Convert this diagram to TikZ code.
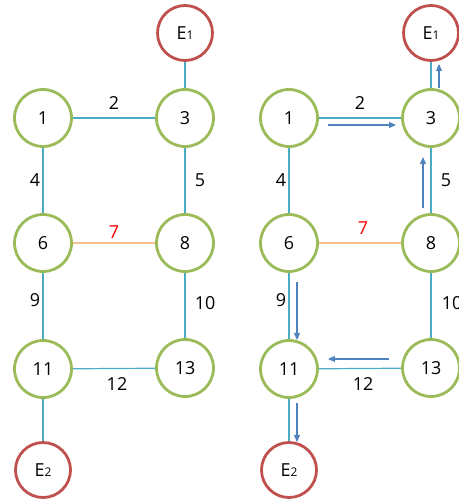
\documentclass[tikz,border=0pt]{standalone}
\usepackage{fontspec}
\setmainfont{Open Sans}
\usetikzlibrary{arrows.meta}
\definecolor{gn}{RGB}{155,187,89}
\definecolor{rd}{RGB}{192,80,77}
\definecolor{ln}{RGB}{75,172,198}
\definecolor{og}{RGB}{250,192,144}
\definecolor{ar}{RGB}{79,129,189}
\tikzset{
  vtx/.style={circle,draw=gn,line width=2.8pt,minimum size=57bp,inner sep=0pt,font=\fontsize{18}{18}\selectfont},
  ext/.style={circle,draw=rd,line width=2.8pt,minimum size=55bp,inner sep=0pt,font=\fontsize{18}{18}\selectfont},
  edge/.style={draw=ln,line width=1.2pt},
  edge7/.style={draw=og,line width=1.4pt},
  lbl/.style={font=\fontsize{18}{18}\selectfont,inner sep=0pt},
  flow/.style={draw=ar,line width=1.1pt,-{Triangle[length=7pt,width=6pt]}}
}
\newcommand{\Esub}[1]{E\raisebox{-0.5pt}{\fontsize{12}{12}\selectfont #1}}
\begin{document}
\begin{tikzpicture}[x=1bp,y=-1bp]
\useasboundingbox (0,0) rectangle (459,502);
% left
\node[vtx] (a1) at (43,118) {1};
\node[vtx] (a3) at (185,118) {3};
\node[ext] (aE1) at (185,33) {\Esub{1}};
\node[vtx] (a6) at (43,243) {6};
\node[vtx] (a8) at (185,243) {8};
\node[vtx] (a11) at (43,369) {11};
\node[vtx] (a13) at (185,368) {13};
\node[ext] (aE2) at (43,470) {\Esub{2}};
\draw[edge] (a1) -- (a3);
\draw[edge] (a3) -- (aE1);
\draw[edge] (a1) -- (a6);
\draw[edge] (a3) -- (a8);
\draw[edge7] (a6) -- (a8);
\draw[edge] (a6) -- (a11);
\draw[edge] (a8) -- (a13);
\draw[edge] (a11) -- (a13);
\draw[edge] (a11) -- (aE2);
\node[lbl] (al2) at (114,103) {2};
\node[lbl] (al4) at (35,180) {4};
\node[lbl] (al5) at (200,180) {5};
\node[lbl,text=red] (al7) at (114,232) {7};
\node[lbl] (al9) at (35,300) {9};
\node[lbl] (al10) at (205,303) {10};
\node[lbl] (al12) at (117,384) {12};
% right
\node[vtx] (b1) at (289,118) {1};
\node[vtx] (b3) at (431,118) {3};
\node[ext] (bE1) at (431,33) {\Esub{1}};
\node[vtx] (b6) at (289,243) {6};
\node[vtx] (b8) at (431,243) {8};
\node[vtx] (b11) at (289,369) {11};
\node[vtx] (b13) at (431,368) {13};
\node[ext] (bE2) at (289,470) {\Esub{2}};
\draw[edge] (b1) -- (b3);
\draw[edge] (b3) -- (bE1);
\draw[edge] (b1) -- (b6);
\draw[edge] (b3) -- (b8);
\draw[edge7] (b6) -- (b8);
\draw[edge] (b6) -- (b11);
\draw[edge] (b8) -- (b13);
\draw[edge] (b11) -- (b13);
\draw[edge] (b11) -- (bE2);
\node[lbl] (bl2) at (360,103) {2};
\node[lbl] (bl4) at (281,180) {4};
\node[lbl] (bl5) at (446,180) {5};
\node[lbl,text=red] (bl7) at (363,228) {7};
\node[lbl] (bl9) at (281,300) {9};
\node[lbl] (bl10) at (452,303) {10};
\node[lbl] (bl12) at (363,384) {12};
% flows
\coordinate (f1s) at (328,125); \coordinate (f1e) at (396,125);
\draw[flow] (f1s) -- (f1e);
\coordinate (f2s) at (439,88); \coordinate (f2e) at (439,64);
\draw[flow] (f2s) -- (f2e);
\coordinate (f3s) at (423,208); \coordinate (f3e) at (423,157);
\draw[flow] (f3s) -- (f3e);
\coordinate (f4s) at (297,282); \coordinate (f4e) at (297,340);
\draw[flow] (f4s) -- (f4e);
\coordinate (f5s) at (389,359); \coordinate (f5e) at (328,359);
\draw[flow] (f5s) -- (f5e);
\coordinate (f6s) at (297,403); \coordinate (f6e) at (297,442);
\draw[flow] (f6s) -- (f6e);
\end{tikzpicture}
\end{document}
